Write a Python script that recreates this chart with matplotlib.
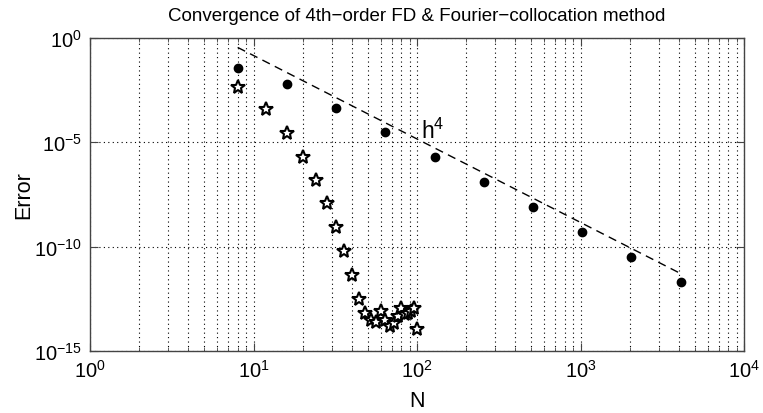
import numpy as np
import matplotlib
matplotlib.use("Agg")
import matplotlib.pyplot as plt
from matplotlib.ticker import LogLocator, NullLocator, FixedLocator

plt.rcParams['font.family'] = ['Liberation Sans', 'DejaVu Sans']
plt.rcParams['mathtext.fontset'] = 'custom'
plt.rcParams['mathtext.rm'] = 'Liberation Sans'
plt.rcParams['mathtext.it'] = 'Liberation Sans'

# Data
N_fd = [8, 16, 32, 64, 128, 256, 512, 1024, 2048, 4096]
err_fd = [3.6e-2, 6e-3, 4.6e-4, 3e-5, 1.9e-6, 1.2e-7, 7.7e-9, 4.9e-10, 3.1e-11, 2.1e-12]

N_fc = [8, 12, 16, 20, 24, 28, 32, 36, 40, 44, 48, 52, 56, 60, 64, 68, 72, 76, 80, 84, 88, 92, 96, 100]
err_fc_log = [-2.36, -3.40, -4.55, -5.69, -6.80, -7.92, -9.07, -10.22, -11.36, -12.50,
              -13.19, -13.50, -13.62, -13.10, -13.50, -13.79, -13.66, -13.34, -12.95,
              -13.22, -13.18, -13.08, -12.95, -13.94]
err_fc = [10.0 ** v for v in err_fc_log]

N_ref = [8, 4096]
C_ref = 1.45e3
ref_label = "h$^4$"

fig = plt.figure(figsize=(7.63, 4.14), dpi=100)
ax = fig.add_axes([90/763, 1-352/414, (744-90)/763, (352-39)/414])

ax.loglog(N_ref, [C_ref * n ** -4 for n in N_ref], '--', color='black', lw=1.0,
          dashes=(6, 4), zorder=3)
ax.loglog(N_fd, err_fd, 'o', color='black', markersize=6, zorder=4)
ax.loglog(N_fc, err_fc, '*', markerfacecolor='white', markeredgecolor='black',
          markeredgewidth=1.5, markersize=10.5, linestyle='none', zorder=4)

ax.text(106, 3.6e-5, ref_label, fontsize=16.5, ha='left', va='center')

ax.set_xlim(1, 1e4)
ax.set_ylim(1e-15, 1)
ax.xaxis.set_major_locator(FixedLocator([1, 10, 100, 1000, 10000]))
ax.xaxis.set_minor_locator(LogLocator(base=10, subs=np.arange(2, 10), numticks=20))
ax.yaxis.set_major_locator(FixedLocator([1e-15, 1e-10, 1e-5, 1]))
ax.yaxis.set_minor_locator(NullLocator())

ax.grid(True, which='major', linestyle=(0, (1, 3)), color='black', lw=0.8)
ax.grid(True, which='minor', axis='x', linestyle=(0, (1, 3)), color='black', lw=0.8)

for s in ax.spines.values():
    s.set_color('#444444')
    s.set_linewidth(1.0)
ax.tick_params(which='both', direction='in', top=True, right=True, colors='#444444',
               labelcolor='black', labelsize=14.5)
ax.tick_params(which='major', length=6)
ax.tick_params(which='minor', length=3)
ax.tick_params(axis='x', which='major', pad=6)
ax.tick_params(axis='y', which='major', pad=6)

ax.set_xlabel('N', fontsize=15.5, labelpad=6)
ax.set_ylabel('Error', fontsize=15.5, labelpad=0)
ax.set_title('Convergence of 4th\u2212order FD & Fourier\u2212collocation method', fontsize=13.5, pad=13)

fig.savefig('out.png', dpi=100)
